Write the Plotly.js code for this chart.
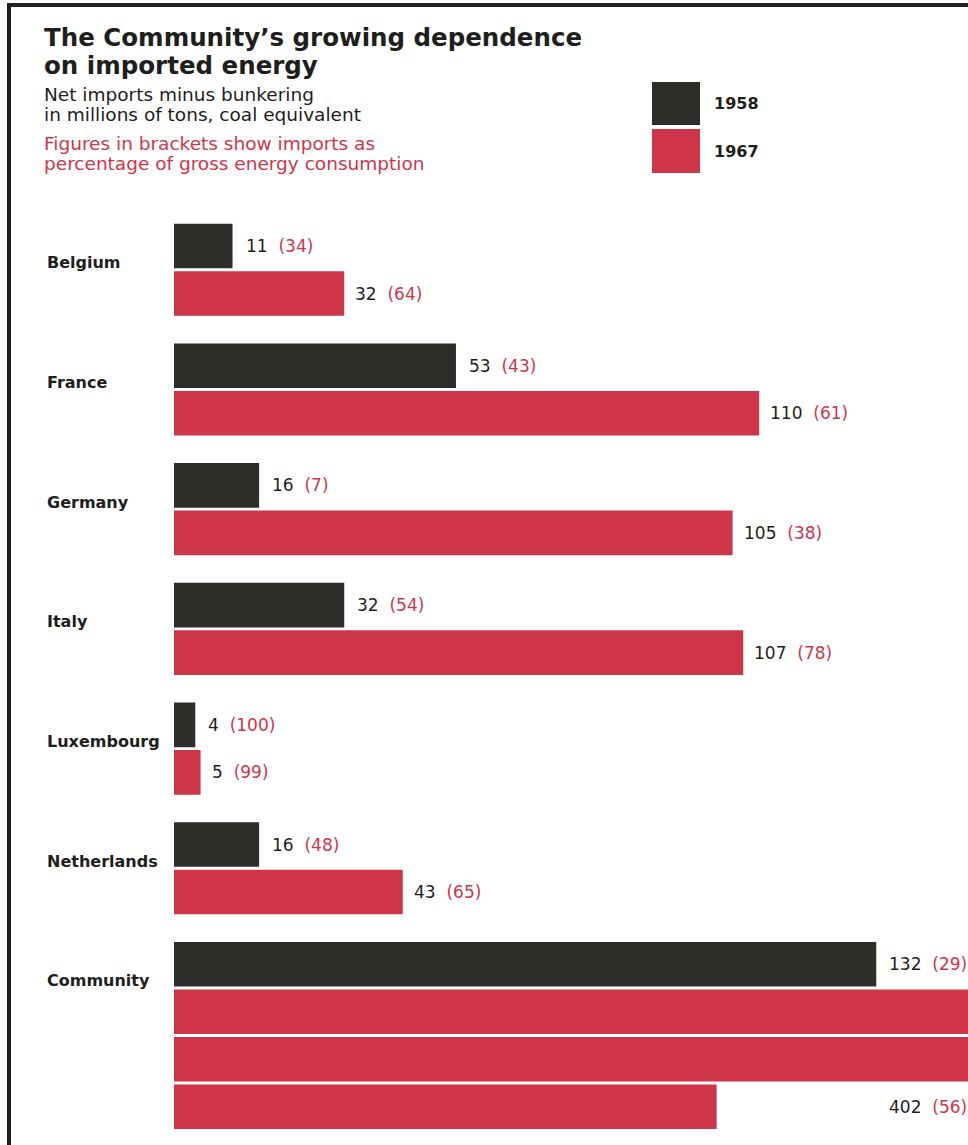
<!DOCTYPE html>
<html><head><meta charset="utf-8">
<script src="https://cdn.plot.ly/plotly-3.0.1.min.js"></script>
<style>html,body{margin:0;padding:0;background:#fff;overflow:hidden}</style>
</head><body><div id="chart" style="width:968px;height:1145px"></div>
<script>
// ---- data ----
const countries   = ['Belgium','France','Germany','Italy','Luxembourg','Netherlands','Community'];
const imports1958 = [11, 53, 16, 32, 4, 16, 132];
const share1958   = [34, 43, 7, 54, 100, 48, 29];
const imports1967 = [32, 110, 105, 107, 5, 43, 402];
const share1967   = [64, 61, 38, 78, 99, 65, 56];
const seriesNames = ['1958', '1967'];
const titleLines  = ['The Community\u2019s growing dependence', 'on imported energy'];
const subLines    = ['Net imports minus bunkering', 'in millions of tons, coal equivalent'];
const noteLines   = ['Figures in brackets show imports as', 'percentage of gross energy consumption'];

// ---- style / layout constants ----
const BLACK = '#2d2d2a', RED = '#cf3549', TEXT = '#1e1e1c';
const FONT = 'DejaVu Sans';
const W = 968, H = 1145, L = 174, T = 200;
const PITCH = 2.52;     // rows per country block
const WRAP = 150;       // long bars wrap onto a new row after this many units
const BARW = 0.94;
const px = x => (x - L) / (W - L);
const py = y => (H - y) / (H - T);
const NB = '\u00a0\u00a0';
const lab = (v, s) => `${v}${NB}<span style="color:${RED}">(${s})</span>`;

const y58 = countries.map((c, i) => i * PITCH);
const x67 = [], y67 = [];
const annotations = [];

countries.forEach((c, i) => {
  // 1958 label
  annotations.push({x: imports1958[i], y: y58[i], xref: 'x', yref: 'y', xanchor: 'left', yanchor: 'middle',
    xshift: 11, showarrow: false, text: lab(imports1958[i], share1958[i]),
    font: {family: FONT, size: 17, color: TEXT}});
  // 1967 bars (wrapped)
  let rem = imports1967[i], k = 0, last = 0;
  while (rem > 0) {
    const seg = Math.min(rem, WRAP);
    x67.push(seg); y67.push(i * PITCH + 1 + k);
    last = seg; rem -= seg; k++;
  }
  const yl = i * PITCH + k;
  if (k > 1) {
    annotations.push({x: px(887), y: yl, xref: 'paper', yref: 'y', xanchor: 'left', yanchor: 'middle',
      showarrow: false, text: lab(imports1967[i], share1967[i]),
      font: {family: FONT, size: 17, color: TEXT}});
  } else {
    annotations.push({x: last, y: yl, xref: 'x', yref: 'y', xanchor: 'left', yanchor: 'middle',
      xshift: 9, showarrow: false, text: lab(imports1967[i], share1967[i]),
      font: {family: FONT, size: 17, color: TEXT}});
  }
  // category label
  annotations.push({x: px(45), y: i * PITCH + 0.5, xref: 'paper', yref: 'y', xanchor: 'left', yanchor: 'middle',
    yshift: 7, showarrow: false, text: c,
    font: {family: FONT, size: 16, color: TEXT, weight: 700}});
});

// header texts
const hdr = (t, x, y, size, color, weight) => annotations.push({x: px(x), y: py(y), xref: 'paper', yref: 'paper',
  xanchor: 'left', yanchor: 'middle', showarrow: false, text: t, font: {family: FONT, size, color, weight}});
hdr(titleLines[0], 42, 37, 24.5, TEXT, 700);
hdr(titleLines[1], 42, 65, 24.5, TEXT, 700);
hdr(subLines[0], 42, 95, 18.5, TEXT, 400);
hdr(subLines[1], 42, 115, 18.5, TEXT, 400);
hdr(noteLines[0], 42, 144, 18.5, RED, 400);
hdr(noteLines[1], 42, 164, 18.5, RED, 400);
hdr(seriesNames[0], 712, 103, 16, TEXT, 700);
hdr(seriesNames[1], 712, 151, 16, TEXT, 700);

const shapes = [
  {type: 'rect', xref: 'paper', yref: 'paper', x0: px(652), x1: px(700), y0: py(82), y1: py(125), fillcolor: BLACK, line: {width: 0}},
  {type: 'rect', xref: 'paper', yref: 'paper', x0: px(652), x1: px(700), y0: py(129), y1: py(173), fillcolor: RED, line: {width: 0}},
  {type: 'line', xref: 'paper', yref: 'paper', x0: px(7), x1: px(975), y0: py(5), y1: py(5), line: {color: '#222', width: 4}},
  {type: 'line', xref: 'paper', yref: 'paper', x0: px(9), x1: px(9), y0: py(3), y1: py(1150), line: {color: '#222', width: 4}}
];

const data = [
  {type: 'bar', orientation: 'h', name: seriesNames[0], x: imports1958, y: y58, width: BARW,
   marker: {color: BLACK, line: {width: 0}}, hoverinfo: 'skip', showlegend: false},
  {type: 'bar', orientation: 'h', name: seriesNames[1], x: x67, y: y67, width: BARW,
   marker: {color: RED, line: {width: 0}}, hoverinfo: 'skip', showlegend: false}
];

const layout = {
  width: W, height: H,
  margin: {l: L, r: 0, t: T, b: 0, pad: 0},
  paper_bgcolor: '#fff', plot_bgcolor: '#fff',
  barmode: 'overlay',
  xaxis: {range: [0, (W - L) / 5.32], visible: false, fixedrange: true},
  yaxis: {range: [(H - 246) / 47.5, (T - 246) / 47.5], visible: false, fixedrange: true},
  showlegend: false,
  annotations, shapes
};

Plotly.newPlot('chart', data, layout, {displayModeBar: false, staticPlot: true});
</script></body></html>
